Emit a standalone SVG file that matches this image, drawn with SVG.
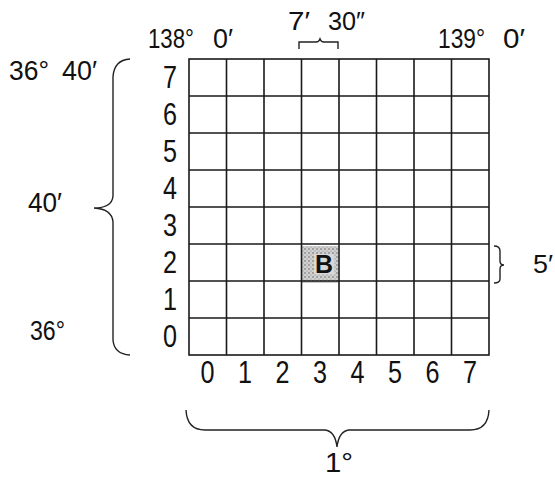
<svg xmlns="http://www.w3.org/2000/svg" width="555" height="479" viewBox="0 0 555 479">
<style>
.t{font-family:"Liberation Sans",Arial,sans-serif;fill:#111}
.row{font-size:32px;text-anchor:middle}
.col{font-size:32px;text-anchor:middle}
.lbl{font-size:28px}
.g{stroke:#1a1a1a;stroke-width:1.6;fill:none}
.br{stroke:#222;stroke-width:1.4;fill:none}
</style>
<defs>
<pattern id="stip" width="4" height="4" patternUnits="userSpaceOnUse">
<rect width="4" height="4" fill="#d0d0d0"/>
<circle cx="1" cy="1" r="0.8" fill="#666"/>
<circle cx="3" cy="3" r="0.6" fill="#888"/>
</pattern>
</defs>
<g id="cellB">
<rect x="301" y="246" width="37" height="37" fill="url(#stip)"/>
<rect x="314" y="254" width="20" height="20" fill="#d8d8d8"/>
<text class="t" x="324" y="273" font-size="25" font-weight="bold" text-anchor="middle" textLength="18" lengthAdjust="spacingAndGlyphs">B</text>
</g>
<g id="grid" class="g">
<rect x="189" y="59" width="300" height="296"/>
<path d="M226.5 59V355M264 59V355M301.5 59V355M339 59V355M376.5 59V355M414 59V355M451.5 59V355"/>
<path d="M189 96H489M189 133H489M189 170H489M189 207H489M189 244H489M189 281H489M189 318H489"/>
</g>
<g id="rowLabels" class="t row">
<text x="170" y="88" textLength="14" lengthAdjust="spacingAndGlyphs">7</text>
<text x="170" y="125" textLength="14" lengthAdjust="spacingAndGlyphs">6</text>
<text x="170" y="162" textLength="14" lengthAdjust="spacingAndGlyphs">5</text>
<text x="170" y="199" textLength="14" lengthAdjust="spacingAndGlyphs">4</text>
<text x="170" y="236" textLength="14" lengthAdjust="spacingAndGlyphs">3</text>
<text x="170" y="273" textLength="14" lengthAdjust="spacingAndGlyphs">2</text>
<text x="170" y="310" textLength="14" lengthAdjust="spacingAndGlyphs">1</text>
<text x="170" y="347" textLength="14" lengthAdjust="spacingAndGlyphs">0</text>
</g>
<g id="colLabels" class="t col">
<text x="207.5" y="383" textLength="14" lengthAdjust="spacingAndGlyphs">0</text>
<text x="245" y="383" textLength="14" lengthAdjust="spacingAndGlyphs">1</text>
<text x="282.5" y="383" textLength="14" lengthAdjust="spacingAndGlyphs">2</text>
<text x="320" y="383" textLength="14" lengthAdjust="spacingAndGlyphs">3</text>
<text x="357.5" y="383" textLength="14" lengthAdjust="spacingAndGlyphs">4</text>
<text x="395" y="383" textLength="14" lengthAdjust="spacingAndGlyphs">5</text>
<text x="432.5" y="383" textLength="14" lengthAdjust="spacingAndGlyphs">6</text>
<text x="470" y="383" textLength="14" lengthAdjust="spacingAndGlyphs">7</text>
</g>
<g id="labels" class="t lbl">
<text x="148" y="48" textLength="46" lengthAdjust="spacingAndGlyphs">138°</text>
<text x="213" y="48" textLength="20" lengthAdjust="spacingAndGlyphs">0′</text>
<text x="438" y="48" textLength="47" lengthAdjust="spacingAndGlyphs">139°</text>
<text x="503" y="48" textLength="22" lengthAdjust="spacingAndGlyphs">0′</text>
<text x="288" y="30" font-size="25" textLength="22" lengthAdjust="spacingAndGlyphs">7′</text>
<text x="328" y="30" font-size="25" textLength="37" lengthAdjust="spacingAndGlyphs">30″</text>
<text x="9" y="80" textLength="40" lengthAdjust="spacingAndGlyphs">36°</text>
<text x="62" y="80" textLength="35" lengthAdjust="spacingAndGlyphs">40′</text>
<text x="28" y="212" textLength="34" lengthAdjust="spacingAndGlyphs">40′</text>
<text x="30" y="340" textLength="35" lengthAdjust="spacingAndGlyphs">36°</text>
<text x="533" y="273" font-size="26" textLength="20" lengthAdjust="spacingAndGlyphs">5′</text>
<text x="325" y="472" font-size="28" textLength="28" lengthAdjust="spacingAndGlyphs">1°</text>
</g>
<g id="connectors" class="br">
<path d="M130 59Q114 60 113 77V196Q112 208 94 208Q112 209 113 222V340Q114 354 130 355"/>
<path d="M299 49V42H316Q319 42 320 39Q321 42 324 42H338V49"/>
<path d="M494 246Q500 246 500 251V261Q500 265 504 265Q500 265 500 269V279Q500 283 494 283"/>
<path d="M186 410Q187 430 205 430H325Q335 431 337 447Q339 431 349 430H470Q488 430 489 410"/>
</g>
</svg>
